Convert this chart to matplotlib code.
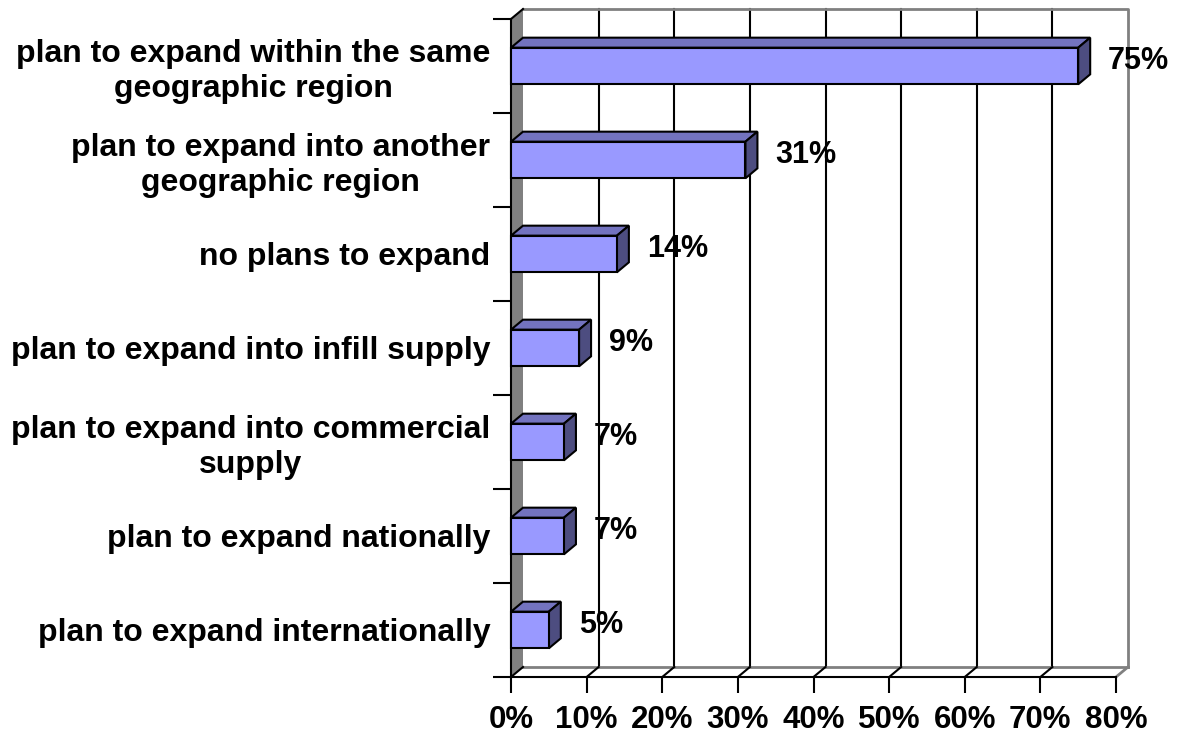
import numpy as np
import matplotlib.pyplot as plt
from matplotlib import font_manager
from matplotlib.patches import Polygon, Rectangle

# survey answers, listed top to bottom
categories = [
    "plan to expand within the same\ngeographic region",
    "plan to expand into another\ngeographic region",
    "no plans to expand",
    "plan to expand into infill supply",
    "plan to expand into commercial\nsupply",
    "plan to expand nationally",
    "plan to expand internationally",
]
values = [75, 31, 14, 9, 7, 7, 5]
xticks = np.arange(0, 81, 10)
xticklabels = [f"{t}%" for t in xticks]

# pick the regular-width bold Liberation Sans (not the Narrow cut)
bold_file = None
for f in font_manager.fontManager.ttflist:
    if f.name == 'Liberation Sans' and f.weight in (700, 'bold') and f.style == 'normal' \
            and 'Narrow' not in f.fname:
        bold_file = f.fname
        break


def bold(size):
    if bold_file:
        return font_manager.FontProperties(fname=bold_file, size=size)
    return font_manager.FontProperties(family='DejaVu Sans', weight='bold', size=size - 2)


W, H = 1194, 733
fig = plt.figure(figsize=(W / 100, H / 100), dpi=100)
ax = fig.add_axes([511 / W, 1 - 677 / H, 605 / W, 658 / H])
n = len(categories)
ax.set_xlim(0, 80)
ax.set_ylim(0, n)

# depth of the fake 3d box, in data units (12 px right, 10 px up)
dx = 12 * 80 / 605
dy = 10 * n / 658

face = '#9999FF'
top_c = '#7373BF'
side_c = '#4D4D80'
wall = '#808080'

# back wall gridlines
for t in xticks[1:-1]:
    ax.plot([t + dx, t + dx], [dy, n + dy], color='black', lw=1.5, clip_on=False, zorder=1)
# back wall outline
ax.plot([dx, 80 + dx, 80 + dx], [n + dy, n + dy, dy], color=wall, lw=2, clip_on=False, zorder=1)
# floor
ax.plot([dx, 80 + dx], [dy, dy], color=wall, lw=2, clip_on=False, zorder=1)
ax.plot([80, 80 + dx], [0, dy], color=wall, lw=2, clip_on=False, zorder=1)
for t in xticks[:-1]:
    ax.plot([t, t + dx], [0, dy], color='black', lw=1.5, clip_on=False, zorder=2)
# left wall
ax.add_patch(Polygon([(0, 0), (dx, dy), (dx, n + dy), (0, n)], closed=True,
                     facecolor=wall, edgecolor='none', clip_on=False, zorder=1))
ax.plot([0, dx], [n, n + dy], color='black', lw=1.5, clip_on=False, zorder=3)

# bars
bh = 0.39
ypos = np.arange(n)[::-1] + 0.5
for y, v in zip(ypos, values):
    y0, y1 = y - bh / 2, y + bh / 2
    ax.add_patch(Polygon([(0, y1), (v, y1), (v + dx, y1 + dy), (dx, y1 + dy)], closed=True,
                         facecolor=top_c, edgecolor='black', lw=1.5, clip_on=False, zorder=4))
    ax.add_patch(Polygon([(v, y0), (v + dx, y0 + dy), (v + dx, y1 + dy), (v, y1)], closed=True,
                         facecolor=side_c, edgecolor='black', lw=1.5, clip_on=False, zorder=4))
    ax.add_patch(Rectangle((0, y0), v, bh, facecolor=face, edgecolor='black', lw=1.5,
                           clip_on=False, zorder=5))
    ax.annotate(f"{v}%", xy=(v + dx, y), xytext=(18, 5), textcoords='offset pixels',
                ha='left', va='center', fontproperties=bold(22), zorder=6)

# axes
for s in ['top', 'right']:
    ax.spines[s].set_visible(False)
for s in ['left', 'bottom']:
    ax.spines[s].set_linewidth(1.5)
    ax.spines[s].set_zorder(3)
ax.set_xticks(xticks)
ax.set_xticklabels(xticklabels, fontproperties=bold(22.5))
ax.tick_params(axis='x', direction='out', length=11.5, width=1.5, pad=9)
ax.set_yticks(np.arange(n + 1))
ax.set_yticklabels([])
ax.tick_params(axis='y', which='major', direction='out', length=13, width=1.5)
ax.set_yticks(ypos, minor=True)
ax.set_yticklabels(categories, minor=True, fontproperties=bold(23),
                   multialignment='center', linespacing=1.18)
ax.tick_params(axis='y', which='minor', length=0, pad=15)

fig.savefig('out.png', dpi=100)
